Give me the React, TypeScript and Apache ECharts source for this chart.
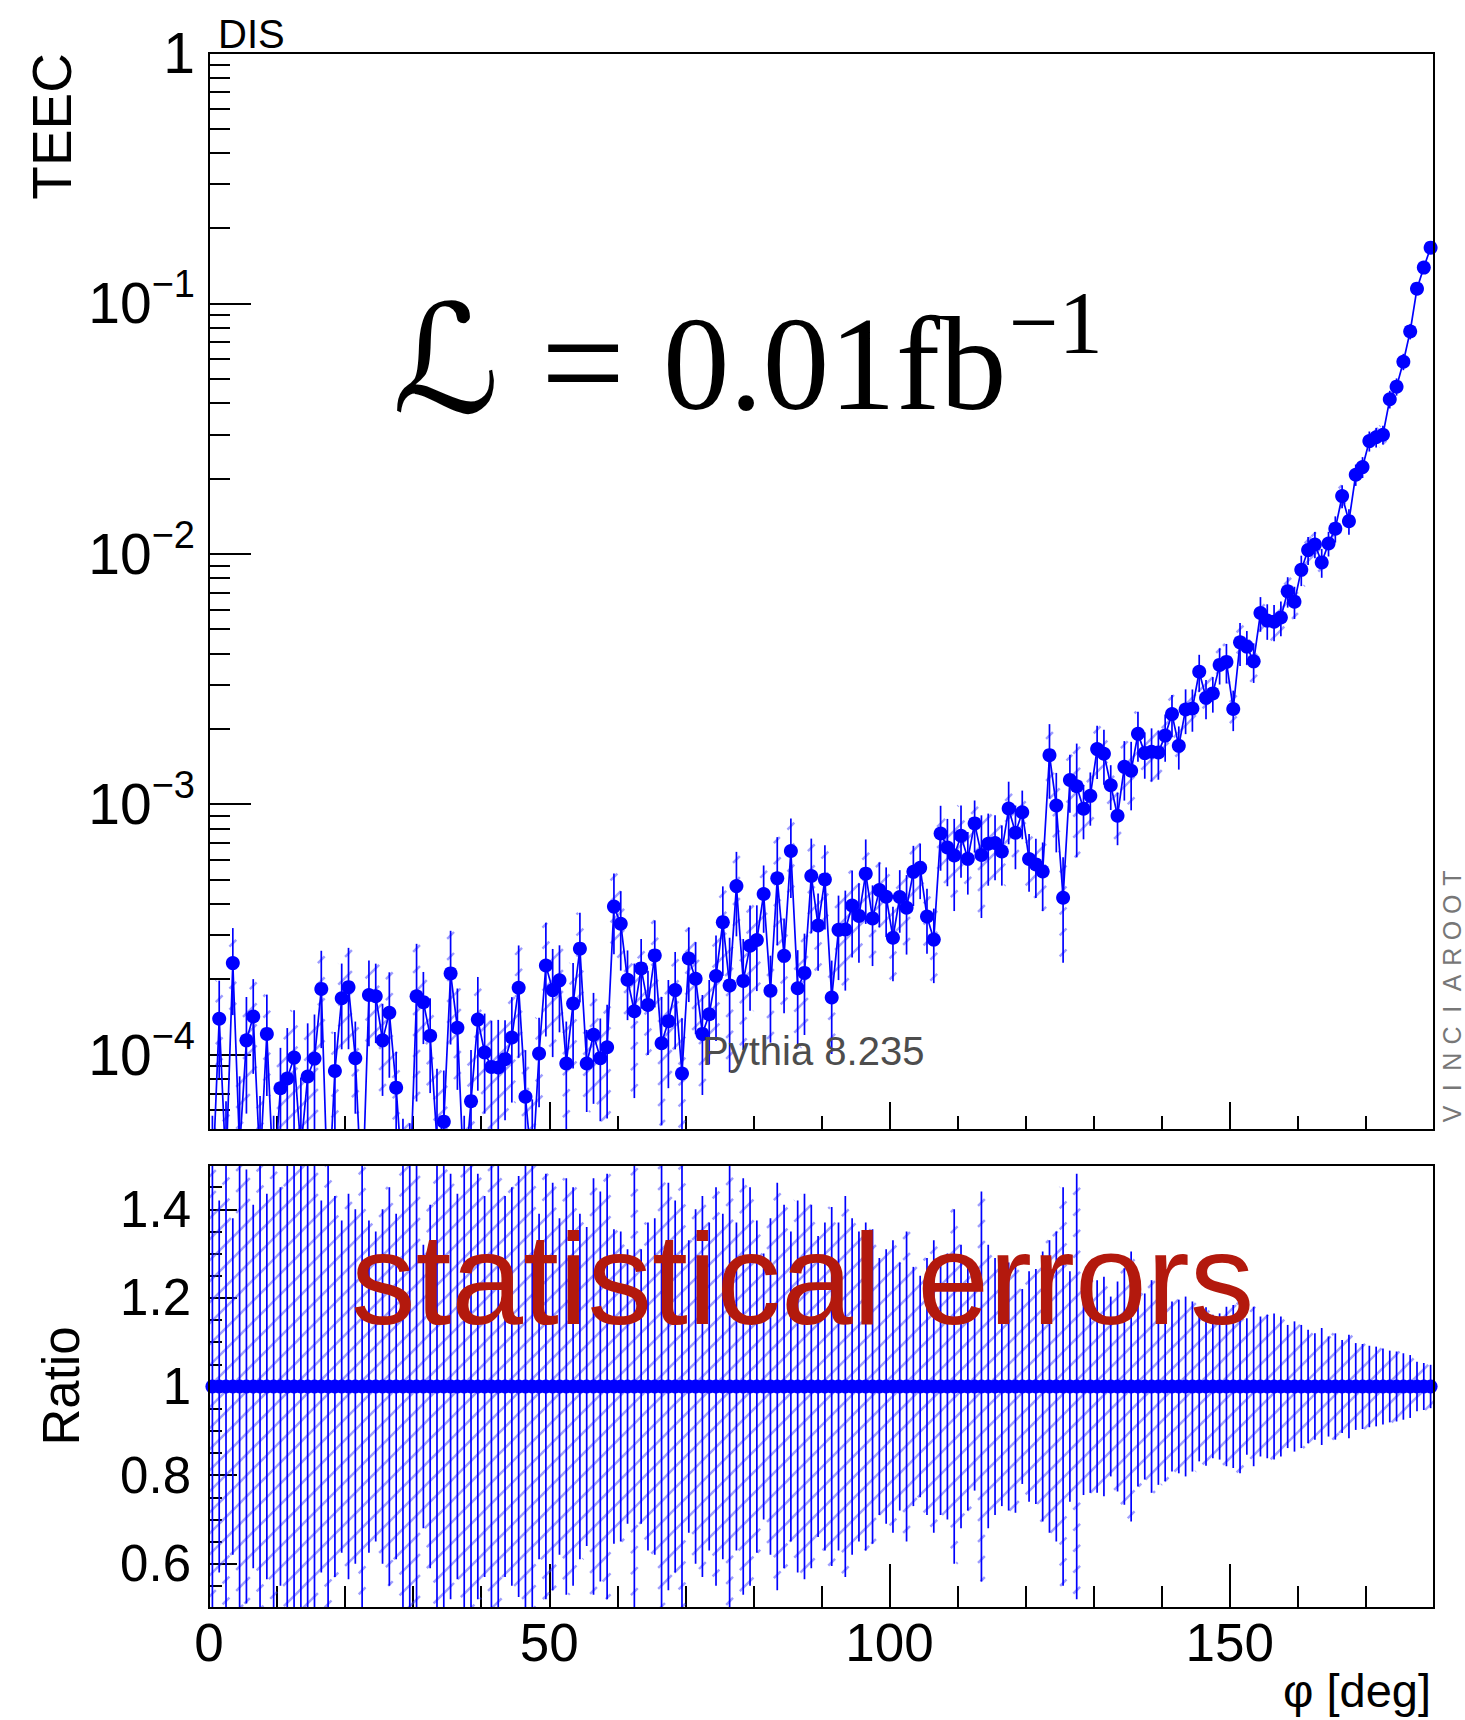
import React, { useEffect, useRef } from 'react';
import * as echarts from 'echarts';

// ---------------- data ----------------
const N_BINS = 180;
const PHI_CENTERS = Array.from({ length: N_BINS }, (_, i) => i + 0.5);

const TEEC = [
  3.0e-5, 1.39e-4, 3.5e-5, 2.32e-4, 4.2e-5, 1.14e-4, 1.42e-4, 3.6e-5, 1.21e-4, 3.0e-5,
  7.34e-5, 8.03e-5, 9.73e-5, 4.2e-5, 8.18e-5, 9.64e-5, 1.83e-4, 2.5e-5, 8.61e-5, 1.68e-4,
  1.86e-4, 9.68e-5, 2.5e-5, 1.73e-4, 1.71e-4, 1.14e-4, 1.47e-4, 7.38e-5, 3.0e-5, 2.8e-5,
  1.71e-4, 1.62e-4, 1.19e-4, 4.5e-5, 5.4e-5, 2.11e-4, 1.28e-4, 3.0e-5, 6.52e-5, 1.38e-4,
  1.02e-4, 8.93e-5, 8.88e-5, 9.59e-5, 1.17e-4, 1.85e-4, 6.79e-5, 3.4e-5, 1.01e-4, 2.27e-4,
  1.81e-4, 1.98e-4, 9.22e-5, 1.60e-4, 2.65e-4, 9.22e-5, 1.20e-4, 9.68e-5, 1.07e-4, 3.90e-4,
  3.33e-4, 1.99e-4, 1.49e-4, 2.21e-4, 1.58e-4, 2.49e-4, 1.11e-4, 1.36e-4, 1.81e-4, 8.41e-5,
  2.42e-4, 2.01e-4, 1.21e-4, 1.45e-4, 2.06e-4, 3.38e-4, 1.89e-4, 4.71e-4, 1.97e-4, 2.72e-4,
  2.87e-4, 4.38e-4, 1.80e-4, 5.06e-4, 2.48e-4, 6.50e-4, 1.84e-4, 2.12e-4, 5.17e-4, 3.28e-4,
  5.01e-4, 1.69e-4, 3.15e-4, 3.16e-4, 3.94e-4, 3.58e-4, 5.28e-4, 3.50e-4, 4.54e-4, 4.27e-4,
  2.93e-4, 4.26e-4, 3.86e-4, 5.37e-4, 5.57e-4, 3.56e-4, 2.88e-4, 7.64e-4, 6.72e-4, 6.24e-4,
  7.48e-4, 6.05e-4, 8.38e-4, 6.27e-4, 6.95e-4, 7.00e-4, 6.48e-4, 9.61e-4, 7.69e-4, 9.29e-4,
  6.04e-4, 5.75e-4, 5.39e-4, 1.57e-3, 9.88e-4, 4.23e-4, 1.25e-3, 1.18e-3, 9.59e-4, 1.08e-3,
  1.66e-3, 1.59e-3, 1.19e-3, 8.99e-4, 1.41e-3, 1.36e-3, 1.91e-3, 1.60e-3, 1.62e-3, 1.61e-3,
  1.88e-3, 2.29e-3, 1.71e-3, 2.39e-3, 2.41e-3, 3.38e-3, 2.66e-3, 2.77e-3, 3.60e-3, 3.70e-3,
  2.40e-3, 4.43e-3, 4.26e-3, 3.72e-3, 5.80e-3, 5.41e-3, 5.36e-3, 5.57e-3, 7.08e-3, 6.44e-3,
  8.63e-3, 1.035e-2, 1.09e-2, 9.24e-3, 1.10e-2, 1.26e-2, 1.70e-2, 1.35e-2, 2.07e-2, 2.22e-2,
  2.82e-2, 2.92e-2, 2.99e-2, 4.14e-2, 4.65e-2, 5.85e-2, 7.73e-2, 0.1145, 0.139, 0.167,
];

const REL_ERR = [
  0.9, 0.42, 0.86, 0.38, 0.95, 0.49, 0.41, 0.9, 0.435, 0.9,
  0.45, 0.59, 0.545, 0.93, 0.63, 0.5, 0.42, 0.9, 0.43, 0.375,
  0.435, 0.4, 0.9, 0.375, 0.35, 0.4, 0.45, 0.39, 0.85, 0.9,
  0.62, 0.32, 0.41, 0.95, 0.6, 0.48, 0.435, 0.9, 0.6, 0.48,
  0.43, 0.53, 0.55, 0.43, 0.45, 0.475, 0.535, 0.95, 0.39, 0.48,
  0.46, 0.38, 0.47, 0.45, 0.39, 0.36, 0.47, 0.44, 0.48, 0.355,
  0.35, 0.31, 0.55, 0.31, 0.37, 0.38, 0.53, 0.46, 0.42, 0.66,
  0.33, 0.4, 0.43, 0.37, 0.45, 0.39, 0.55, 0.37, 0.47, 0.45,
  0.375, 0.3, 0.38, 0.46, 0.41, 0.35, 0.42, 0.435, 0.41, 0.34,
  0.37, 0.405, 0.37, 0.43, 0.38, 0.35, 0.37, 0.355, 0.29, 0.31,
  0.33, 0.28, 0.35, 0.27, 0.25, 0.29, 0.33, 0.29, 0.3, 0.4,
  0.32, 0.28, 0.235, 0.44, 0.32, 0.29, 0.27, 0.28, 0.285, 0.22,
  0.26, 0.265, 0.305, 0.33, 0.35, 0.45, 0.26, 0.48, 0.245, 0.24,
  0.24, 0.248, 0.203, 0.237, 0.267, 0.305, 0.226, 0.21, 0.24, 0.222,
  0.214, 0.192, 0.196, 0.203, 0.192, 0.169, 0.179, 0.162, 0.165, 0.18,
  0.184, 0.196, 0.154, 0.18, 0.158, 0.162, 0.165, 0.158, 0.139, 0.147,
  0.139, 0.128, 0.12, 0.132, 0.113, 0.12, 0.105, 0.117, 0.098, 0.096,
  0.092, 0.09, 0.086, 0.081, 0.079, 0.075, 0.071, 0.056, 0.053, 0.049,
];

// the sample divided by itself
const RATIO = TEEC.map(() => 1);

const PHI_MIN = 0;
const PHI_MAX = 180;
const TEEC_MIN = 5e-5;
const TEEC_MAX = 1;
const RATIO_MIN = 0.5;
const RATIO_MAX = 1.5;
const RATIO_LABELS = [0.6, 0.8, 1, 1.2, 1.4];
const LOG_DECADES = [-5, -4, -3, -2, -1];
const LOG_MULTIPLIERS = [2, 3, 4, 5, 6, 7, 8, 9];
const LOG_MINOR_TICKS = LOG_DECADES.flatMap((d) =>
  LOG_MULTIPLIERS.map((m) => m * Math.pow(10, d))
).filter((v) => v > TEEC_MIN * 1.001 && v < TEEC_MAX);
const VINCIA_LETTERS = ['V', 'I', 'N', 'C', 'I', 'A', 'R', 'O', 'O', 'T'];

// ---------------- style ----------------
const SANS = '"Liberation Sans", Arial, Helvetica, sans-serif';
const SERIF = '"Liberation Serif", "Times New Roman", "DejaVu Serif", serif';
const BLUE = '#0000ff';
const HATCH = 'rgba(60,60,255,0.5)';
const HATCH_STEP = 21;
const TICK_STYLE = { color: '#000', width: 2 };
const MARKER_SIZE = 14;

function bandRenderer(params: any, api: any) {
  const xc = api.value(0);
  const lo = api.value(1);
  const hi = api.value(2);
  const cs = params.coordSys;
  const left = api.coord([xc - 0.5, hi])[0];
  const right = api.coord([xc + 0.5, hi])[0];
  const xm = api.coord([xc, hi])[0];
  let top = api.coord([xc, hi])[1];
  let bot = api.coord([xc, lo])[1];
  if (!isFinite(bot)) bot = cs.y + cs.height;
  top = Math.max(top, cs.y);
  bot = Math.min(bot, cs.y + cs.height);
  const children: any[] = [];
  if (bot > top) {
    const cStart = Math.ceil((left + top) / HATCH_STEP) * HATCH_STEP;
    for (let c = cStart; c <= right + bot; c += HATCH_STEP) {
      const xa = Math.max(left, c - bot);
      const xb = Math.min(right, c - top);
      if (xb <= xa) continue;
      children.push({
        type: 'line',
        shape: { x1: xa, y1: c - xa, x2: xb, y2: c - xb },
        style: { stroke: HATCH, lineWidth: 2.4 },
        silent: true,
      });
    }
    children.push({
      type: 'line',
      shape: { x1: xm, y1: top, x2: xm, y2: bot },
      style: { stroke: BLUE, lineWidth: 1.7 },
      silent: true,
    });
  }
  return { type: 'group', children };
}

function logLabel(v: number) {
  const p = Math.log10(v);
  const r = Math.round(p);
  if (Math.abs(p - r) > 1e-6) return '';
  if (r === 0) return '{b|1}';
  return `{b|10}{s|\u2212${-r}}`;
}

function xAxisDef(grid: number, interval: number, len: number, labels: boolean) {
  return {
    gridIndex: grid,
    type: 'value',
    position: 'bottom',
    min: PHI_MIN,
    max: PHI_MAX,
    interval,
    axisLine: { show: false },
    axisTick: { show: true, inside: true, length: len, lineStyle: TICK_STYLE },
    splitLine: { show: false },
    axisLabel: labels
      ? {
          show: true,
          fontSize: 53,
          fontFamily: SANS,
          color: '#000',
          margin: 8,
          showMaxLabel: false,
          formatter: (v: number) => (v % 50 === 0 ? String(v) : ''),
        }
      : { show: false },
  };
}

export default function App() {
  const ref = useRef<HTMLDivElement>(null);

  useEffect(() => {
    if (!ref.current) return;
    const chart = echarts.init(ref.current, undefined, { renderer: 'svg' });

    const topBand = PHI_CENTERS.map((x, i) => [
      x,
      Math.max(TEEC[i] * (1 - REL_ERR[i]), 1e-9),
      TEEC[i] * (1 + REL_ERR[i]),
    ]);
    const topPts = PHI_CENTERS.map((x, i) => [x, TEEC[i]]);
    const ratioBand = PHI_CENTERS.map((x, i) => [
      x,
      RATIO[i] * (1 - REL_ERR[i]),
      RATIO[i] * (1 + REL_ERR[i]),
    ]);
    const ratioPts = PHI_CENTERS.map((x, i) => [x, RATIO[i]]);

    const option: any = {
      animation: false,
      backgroundColor: '#fff',
      grid: [
        {
          left: 209, top: 53, width: 1225, height: 1077,
          show: true, borderColor: '#000', borderWidth: 2,
          backgroundColor: 'transparent', z: 5,
        },
        {
          left: 209, top: 1165, width: 1225, height: 443,
          show: true, borderColor: '#000', borderWidth: 2,
          backgroundColor: 'transparent', z: 5,
        },
      ],
      xAxis: [
        xAxisDef(0, 10, 14, false),
        xAxisDef(0, 50, 28, false),
        xAxisDef(1, 10, 22, false),
        xAxisDef(1, 50, 44, true),
      ],
      yAxis: [
        {
          gridIndex: 0,
          type: 'log',
          logBase: 10,
          position: 'left',
          min: TEEC_MIN,
          max: TEEC_MAX,
          axisLine: { show: false },
          axisTick: { show: true, inside: true, length: 42, lineStyle: TICK_STYLE },
          minorTick: { show: false },
          splitLine: { show: false },
          axisLabel: {
            show: true,
            margin: 14,
            color: '#000',
            formatter: logLabel,
            rich: {
              b: { fontSize: 57, fontFamily: SANS, color: '#000' },
              s: { fontSize: 38, fontFamily: SANS, color: '#000', padding: [0, 0, 38, 0] },
            },
          },
        },
        {
          gridIndex: 0,
          type: 'log',
          logBase: 10,
          position: 'left',
          min: TEEC_MIN,
          max: TEEC_MAX,
          axisLine: { show: false },
          axisTick: { show: true, inside: true, length: 21, lineStyle: TICK_STYLE, customValues: LOG_MINOR_TICKS },
          splitLine: { show: false },
          axisLabel: { show: false },
        },
        {
          gridIndex: 1,
          type: 'value',
          position: 'left',
          min: RATIO_MIN,
          max: RATIO_MAX,
          interval: 0.05,
          axisLine: { show: false },
          axisTick: { show: true, inside: true, length: 13, lineStyle: TICK_STYLE },
          splitLine: { show: false },
          axisLabel: { show: false },
        },
        {
          gridIndex: 1,
          type: 'value',
          position: 'left',
          min: RATIO_MIN,
          max: RATIO_MAX,
          axisLine: { show: false },
          axisTick: { show: true, inside: true, length: 28, lineStyle: TICK_STYLE, customValues: RATIO_LABELS },
          splitLine: { show: false },
          axisLabel: {
            show: true,
            customValues: RATIO_LABELS,
            fontSize: 51,
            fontFamily: SANS,
            color: '#000',
            margin: 18,
            formatter: (v: number) => String(v),
          },
        },
      ],
      series: [
        {
          type: 'custom',
          xAxisIndex: 0,
          yAxisIndex: 0,
          data: topBand,
          encode: { x: 0, y: [1, 2] },
          renderItem: bandRenderer,
          silent: true,
          z: 2,
        },
        {
          type: 'line',
          xAxisIndex: 0,
          yAxisIndex: 0,
          data: topPts,
          symbol: 'circle',
          symbolSize: MARKER_SIZE,
          showAllSymbol: true,
          itemStyle: { color: BLUE },
          lineStyle: { color: BLUE, width: 1.7 },
          clip: true,
          silent: true,
          z: 3,
        },
        {
          type: 'custom',
          xAxisIndex: 2,
          yAxisIndex: 2,
          data: ratioBand,
          encode: { x: 0, y: [1, 2] },
          renderItem: bandRenderer,
          silent: true,
          z: 2,
        },
        {
          type: 'line',
          xAxisIndex: 2,
          yAxisIndex: 2,
          data: ratioPts,
          symbol: 'circle',
          symbolSize: MARKER_SIZE,
          showAllSymbol: true,
          itemStyle: { color: BLUE },
          lineStyle: { color: BLUE, width: 1.7 },
          clip: true,
          silent: true,
          z: 3,
        },
      ],
      graphic: [
        {
          type: 'text', x: 52, y: 53, rotation: Math.PI / 2, z: 10,
          style: { text: 'TEEC', fontSize: 55, fontFamily: SANS, fill: '#000', align: 'right', verticalAlign: 'middle' },
        },
        {
          type: 'text', x: 218, y: 34, z: 10,
          style: { text: 'DIS', fontSize: 40, fontFamily: SANS, fill: '#000', align: 'left', verticalAlign: 'middle' },
        },
        {
          type: 'text', x: 446, y: 360, z: 10,
          style: { text: '\u2112', fontSize: 150, fontStyle: 'italic', fontFamily: '"DejaVu Serif", "DejaVu Sans", serif', fill: '#000', align: 'center', verticalAlign: 'middle' },
        },
        {
          type: 'text', x: 583, y: 362, z: 10,
          style: { text: '=', fontSize: 150, fontFamily: SERIF, fill: '#000', align: 'center', verticalAlign: 'middle' },
        },
        {
          type: 'text', x: 663, y: 364, z: 10,
          style: { text: '0.01fb', fontSize: 133, fontFamily: SERIF, fill: '#000', align: 'left', verticalAlign: 'middle' },
        },
        {
          type: 'text', x: 1009, y: 322, z: 10,
          style: { text: '\u22121', fontSize: 88, fontFamily: SERIF, fill: '#000', align: 'left', verticalAlign: 'middle' },
        },
        {
          type: 'text', x: 702, y: 1051, z: 10,
          style: { text: 'Pythia 8.235', fontSize: 40, fontFamily: SANS, fill: '#4d4d4d', align: 'left', verticalAlign: 'middle' },
        },
        {
          type: 'group', x: 1452, y: 1126, rotation: Math.PI / 2, z: 10,
          children: VINCIA_LETTERS.map((ch, k) => ({
            type: 'text', x: 12 + k * 26.2, y: 0,
            style: { text: ch, fontSize: 25, fontFamily: SANS, fill: '#777', align: 'center', verticalAlign: 'middle' },
          })),
        },
        {
          type: 'text', x: 351, y: 1279, z: 10,
          style: { text: 'statistical errors', fontSize: 129, fontFamily: SANS, fill: '#b3190d', align: 'left', verticalAlign: 'middle' },
        },
        {
          type: 'text', x: 61, y: 1386, rotation: Math.PI / 2, z: 10,
          style: { text: 'Ratio', fontSize: 51, fontFamily: SANS, fill: '#000', align: 'center', verticalAlign: 'middle' },
        },
        {
          type: 'text', x: 1431, y: 1690, z: 10,
          style: {
            text: '\u03c6 [deg]',
            fontSize: 47,
            lineHeight: 50,
            fontFamily: SANS,
            fill: '#000',
            align: 'right',
            verticalAlign: 'middle',
          },
        },
      ],
    };

    chart.setOption(option);
    return () => chart.dispose();
  }, []);

  return (
    <div
      ref={ref}
      style={{ position: 'absolute', left: 0, top: 0, width: 1465, height: 1720, background: '#fff' }}
    />
  );
}
